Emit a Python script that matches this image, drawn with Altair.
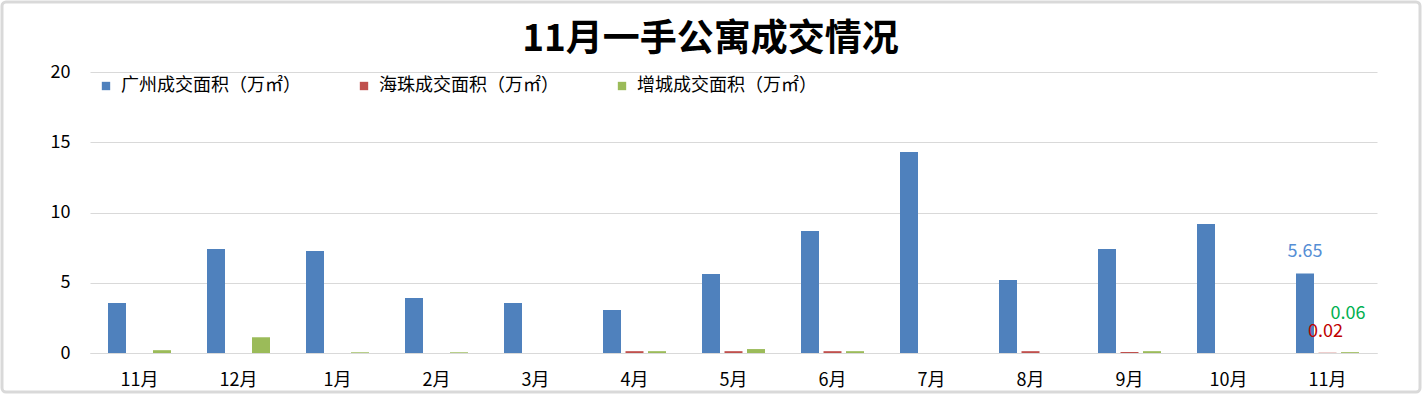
import altair as alt
import pandas as pd

month_labels = ["11月", "12月", "1月", "2月", "3月", "4月", "5月", "6月", "7月", "8月", "9月", "10月", "11月"]
series = ["广州成交面积（万㎡）", "海珠成交面积（万㎡）", "增城成交面积（万㎡）"]
guangzhou = [3.56, 7.4, 7.26, 3.91, 3.56, 3.06, 5.62, 8.68, 14.3, 5.2, 7.4, 9.18, 5.65]
haizhu = [0.0, 0.0, 0.0, 0.0, 0.0, 0.13, 0.13, 0.13, 0.0, 0.13, 0.07, 0.0, 0.02]
zengcheng = [0.2, 1.12, 0.05, 0.05, 0.0, 0.13, 0.28, 0.13, 0.0, 0.0, 0.13, 0.0, 0.06]
colors = ["#4F81BD", "#C0504D", "#9BBB59"]

rows = []
for i in range(len(month_labels)):
    for s, vals in zip(series, [guangzhou, haizhu, zengcheng]):
        rows.append({"idx": i, "series": s, "value": vals[i]})
df = pd.DataFrame(rows)

last = len(month_labels) - 1
lab_df = pd.DataFrame([
    {"idx": last, "series": series[0], "value": guangzhou[last], "txt": f"{guangzhou[last]:.2f}", "k": "g"},
    {"idx": last, "series": series[1], "value": haizhu[last], "txt": f"{haizhu[last]:.2f}", "k": "h"},
    {"idx": last, "series": series[2], "value": zengcheng[last], "txt": f"{zengcheng[last]:.2f}", "k": "z"},
])

FONT = "Noto Sans CJK SC"
label_expr = "[" + ",".join(f"'{m}'" for m in month_labels) + "][datum.value]"

x_enc = alt.X("idx:O", scale=alt.Scale(paddingInner=0, paddingOuter=0),
              axis=alt.Axis(title=None, labelExpr=label_expr, labelAngle=0, ticks=False, grid=False,
                            domain=True, domainColor="#D9D9D9", labelPadding=18,
                            labelFontSize=18, labelFont=FONT, labelColor="#000000"))
xoff = alt.XOffset("series:N", sort=series,
                   scale=alt.Scale(paddingInner=0.2, paddingOuter=0.8))
y_enc = alt.Y("value:Q", scale=alt.Scale(domain=[0, 20]),
              axis=alt.Axis(title=None, values=[0, 5, 10, 15, 20], grid=True, gridColor="#D9D9D9",
                            domain=False, ticks=False, labelPadding=20, labelFontSize=18,
                            labelFont=FONT, labelColor="#000000"))

bars = alt.Chart(df).mark_bar().encode(
    x=x_enc, xOffset=xoff, y=y_enc,
    color=alt.Color("series:N", sort=series,
                    scale=alt.Scale(domain=series, range=colors),
                    legend=alt.Legend(title=None, orient="none", legendX=7, legendY=5,
                                      direction="horizontal", symbolType="square",
                                      symbolSize=70, labelFontSize=18, labelFont=FONT,
                                      labelColor="#000000", columnPadding=54, labelLimit=0,
                                      symbolStrokeWidth=0, labelOffset=6)),
)

def label_layer(key, color, dy, dx=0):
    return alt.Chart(lab_df[lab_df.k == key]).mark_text(
        font=FONT, fontSize=18, color=color, dy=dy, dx=dx
    ).encode(x=alt.X("idx:O"), xOffset=alt.XOffset("series:N", sort=series), y="value:Q", text="txt:N")

labels = label_layer("g", "#558ED5", -22) + label_layer("h", "#C00000", -21, -2) + label_layer("z", "#00B050", -38, -2)

border = alt.Chart(pd.DataFrame({"a": [0]})).mark_rect(
    fill=None, stroke="#D9D9D9", strokeWidth=3, cornerRadius=4
).encode(x=alt.value(-88), x2=alt.value(1330), y=alt.value(-70), y2=alt.value(320))

chart = alt.layer(bars, labels, border).properties(
    width=1287, height=281,
    title=alt.TitleParams("11月一手公寓成交情况", font=FONT, fontSize=37, fontWeight="bold",
                          color="#000000", anchor="middle", offset=12, dy=70, dx=-23),
    autosize=alt.AutoSizeParams(type="none"),
    padding={"left": 90, "top": 72, "right": 45, "bottom": 41},
    background="#FFFFFF",
).configure_view(stroke="transparent", strokeWidth=0)

chart.save("out.html", embed_options={"renderer": "svg", "actions": False})
